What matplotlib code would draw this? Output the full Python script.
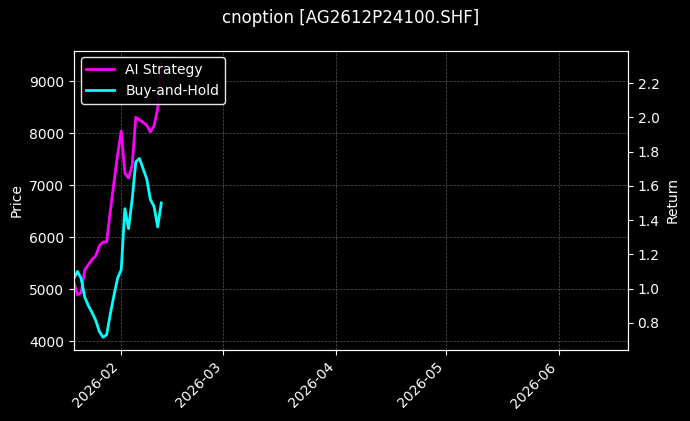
import matplotlib
matplotlib.use("Agg")
import matplotlib.pyplot as plt
import matplotlib.dates as mdates
import pandas as pd

plt.style.use("dark_background")

dates = pd.date_range("2026-01-19", periods=25, freq="D")
ai_strategy = [1.036, 0.964, 0.976, 1.11, 1.14, 1.17, 1.19, 1.25, 1.272, 1.272,
               1.45, 1.62, 1.78, 1.92, 1.675, 1.645, 1.72, 2.00, 1.985, 1.97,
               1.953, 1.915, 1.95, 2.05, 2.32]
buy_hold = [1.06, 1.10, 1.06, 0.95, 0.90, 0.86, 0.815, 0.75, 0.716, 0.73,
            0.85, 0.96, 1.06, 1.11, 1.467, 1.35, 1.52, 1.74, 1.76, 1.70,
            1.64, 1.52, 1.48, 1.36, 1.50]

fig, ax = plt.subplots(figsize=(6.9, 4.21), dpi=100)
fig.subplots_adjust(left=0.107, right=0.91, top=0.88, bottom=0.168)
ax.set_ylim(3827, 9596)
ax.set_xlim(pd.Timestamp("2026-01-19"), pd.Timestamp("2026-06-20"))
ax.set_ylabel("Price")
ax.grid(True, color="#555555", linestyle="--", linewidth=0.5)
ax.set_title("cnoption [AG2612P24100.SHF]", fontsize=12, pad=20)

ax2 = ax.twinx()
ax2.plot(dates, ai_strategy, color="#ff00ff", lw=2, label="AI Strategy")
ax2.plot(dates, buy_hold, color="#00ffff", lw=2, label="Buy-and-Hold")
ax2.set_ylim(0.64, 2.39)
ax2.set_ylabel("Return")
ax2.legend(loc="upper left", facecolor="black", edgecolor="white", framealpha=0.9)

ax.xaxis.set_major_locator(mdates.MonthLocator())
ax.xaxis.set_major_formatter(mdates.DateFormatter("%Y-%m"))
for lbl in ax.get_xticklabels():
    lbl.set_rotation(45)
    lbl.set_ha("right")

fig.savefig("out.png", dpi=100, facecolor="black")
